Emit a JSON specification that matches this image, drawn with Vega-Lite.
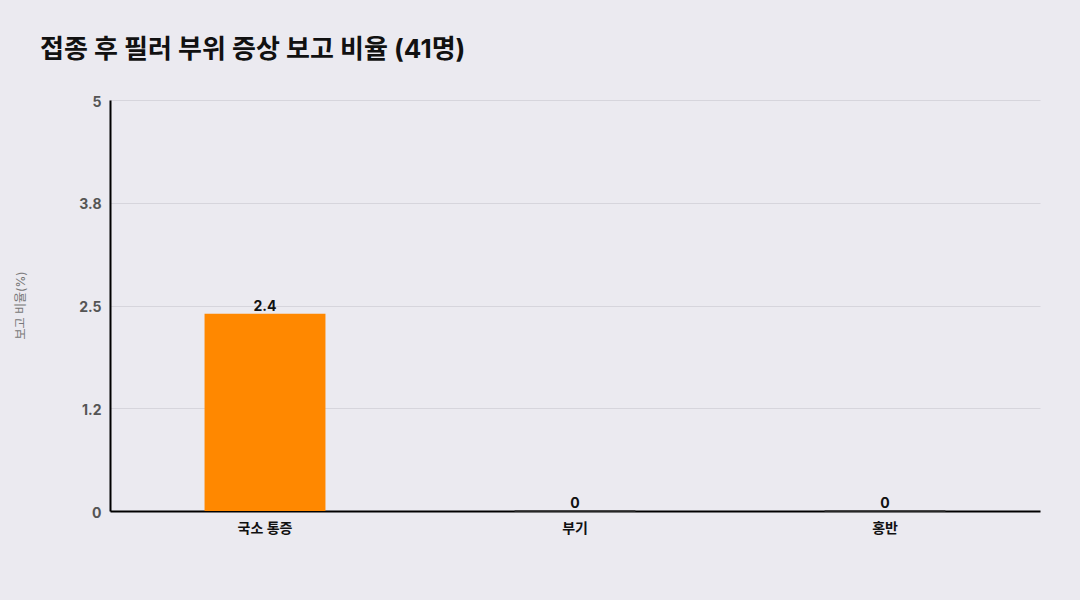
{
  "$schema": "https://vega.github.io/schema/vega-lite/v6.json",
  "description": "접종 후 필러 부위 증상 보고 비율 (41명)",
  "autosize": {"type": "none"},
  "padding": {"left": 110, "top": 100, "right": 40, "bottom": 89},
  "width": 930,
  "height": 411,
  "background": "#EBEAF0",
  "config": {
    "font": "Inter, Noto Sans CJK KR",
    "view": {"stroke": null}
  },
  "title": {
    "text": "접종 후 필러 부위 증상 보고 비율 (41명)",
    "anchor": "start",
    "frame": "group",
    "dx": -70,
    "offset": 32,
    "fontSize": 26,
    "fontWeight": "bold",
    "color": "#111111",
    "font": "Inter, Noto Sans CJK KR"
  },
  "data": {
    "values": [
      {"증상": "국소 통증", "비율": 2.4},
      {"증상": "부기", "비율": 0},
      {"증상": "홍반", "비율": 0}
    ]
  },
  "encoding": {
    "x": {
      "field": "증상",
      "type": "nominal",
      "sort": null,
      "scale": {"paddingInner": 0.61, "paddingOuter": 0.305},
      "axis": {
        "title": null,
        "labelAngle": 0,
        "labelFontSize": 14,
        "labelFontWeight": "bold",
        "labelColor": "#111111",
        "labelPadding": 10,
        "ticks": false,
        "domainColor": "#000000",
        "domainWidth": 2,
        "grid": false
      }
    },
    "y": {
      "field": "비율",
      "type": "quantitative",
      "scale": {"domain": [0, 5], "nice": false},
      "axis": {
        "title": "보고 비율(%)",
        "titleFontSize": 12,
        "titleFontWeight": "normal",
        "titleColor": "#777777",
        "titleX": -90,
        "titleY": 205,
        "titleAngle": -90,
        "titleAlign": "center",
        "titleBaseline": "middle",
        "values": [0, 1.25, 2.5, 3.75, 5],
        "labelExpr": "datum.value == 1.25 ? '1.2' : datum.value == 3.75 ? '3.8' : datum.value == 2.5 ? '2.5' : format(datum.value, 'd')",
        "labelFontSize": 14,
        "labelFontWeight": "bold",
        "labelColor": "#555555",
        "labelPadding": 9,
        "labelOffset": 2,
        "ticks": false,
        "domainColor": "#000000",
        "domainWidth": 2,
        "gridColor": "#D6D5DC",
        "gridWidth": 1
      }
    }
  },
  "layer": [
    {
      "mark": {"type": "bar", "color": "#FF8800", "strokeWidth": 1.5},
      "encoding": {
        "stroke": {
          "condition": {"test": "datum['비율'] == 0", "value": "#333333"},
          "value": null
        }
      }
    },
    {
      "mark": {
        "type": "text",
        "dy": -7,
        "fontSize": 14,
        "fontWeight": "bold",
        "color": "#111111"
      },
      "encoding": {
        "text": {"field": "비율", "type": "quantitative", "format": ".2~f"}
      }
    }
  ]
}
